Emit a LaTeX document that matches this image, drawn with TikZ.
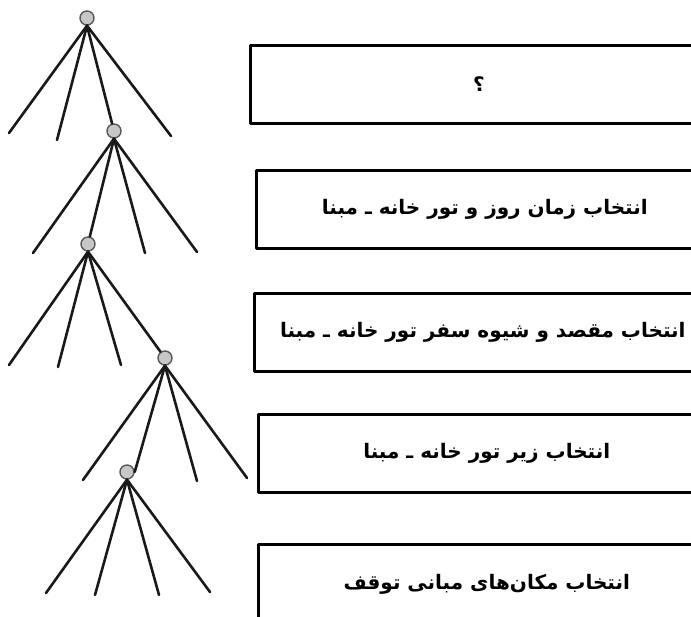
\documentclass[tikz,border=0pt]{standalone}
\usepackage{fontspec}
\TeXXeTstate=1
\newfontfamily\arabicfont[Script=Arabic]{DejaVu Sans}
\usepackage{tikz}
\usetikzlibrary{positioning}
\tikzset{
	stage/.style={draw=black, line width=2.6pt, fill=white, anchor=north west,
		minimum width=457pt, minimum height=78pt, inner sep=0pt,
		font=\arabicfont\bfseries\fontsize{20}{24}\selectfont},
	knot/.style={circle, draw=black!65, fill=black!22, line width=1.4pt,
		minimum size=14pt, inner sep=0pt},
	branch/.style={black!90, line width=2.6pt},
}

\begin{document}
\begin{tikzpicture}[x=1pt, y=-1pt, line cap=round, line join=round]
		\useasboundingbox (0,0) rectangle (691,617);
		
		% Stages (boxes run off the right edge)
		\node[stage] (s1) at (249,44) {\fontsize{20}{22}\beginR ؟\endR};
		\node[stage] (s2) at (255,169) {\beginR انتخاب زمان روز و تور خانه ـ مبنا\endR};
		\node[stage] (s3) at (253,292) {\beginR انتخاب مقصد و شیوه سفر تور خانه ـ مبنا\endR};
		\node[stage] (s4) at (257,413) {\beginR انتخاب زیر تور خانه ـ مبنا\endR};
		\node[stage, minimum height=80pt] (s5) at (257,543) {\beginR انتخاب مکان‌های مبانی توقف\endR};
		
		% Tree knots
		\node[knot] (k1) at (87,18) {};
		\node[knot] (k2) at (114,131) {};
		\node[knot] (k3) at (88,244) {};
		\node[knot] (k4) at (165,358) {};
		\node[knot] (k5) at (127,472) {};
		
		% Branches between knots
		\draw[branch] (k1.south) -- (k2);
		\draw[branch] (k2.south) -- (k3);
		\draw[branch] (k3.south) -- (k4);
		\draw[branch] (k4.south) -- (k5.east);
		
		% Free branches
		\foreach \x/\y [count=\i] in {9/133, 57/140, 171/136}
			{\coordinate (a\i) at (\x,\y); \draw[branch] (k1.south) -- (a\i);}
		\foreach \x/\y [count=\i] in {33/253, 145/253, 197/252}
			{\coordinate (b\i) at (\x,\y); \draw[branch] (k2.south) -- (b\i);}
		\foreach \x/\y [count=\i] in {9/365, 58/367, 121/365}
			{\coordinate (c\i) at (\x,\y); \draw[branch] (k3.south) -- (c\i);}
		\foreach \x/\y [count=\i] in {83/480, 197/481, 247/478}
			{\coordinate (d\i) at (\x,\y); \draw[branch] (k4.south) -- (d\i);}
		\foreach \x/\y [count=\i] in {46/593, 95/595, 159/595, 210/592}
			{\coordinate (e\i) at (\x,\y); \draw[branch] (k5.south) -- (e\i);}
	\end{tikzpicture}
\end{document}
